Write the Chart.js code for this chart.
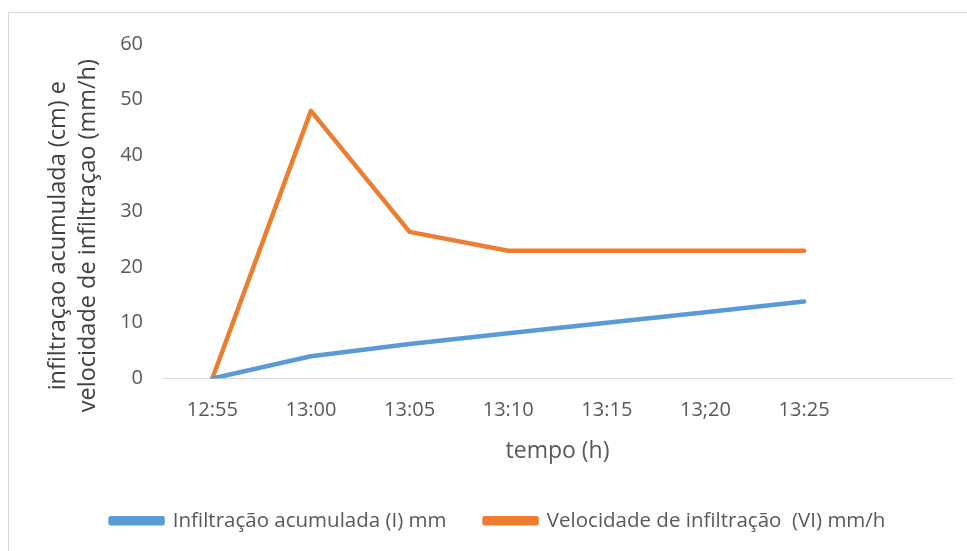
<!DOCTYPE html>
<html>
<head>
<meta charset="utf-8">
<style>
  html, body { margin: 0; padding: 0; background: #fff; overflow: hidden; }
  #wrap { position: relative; width: 967px; height: 551px; }
  #frame { position: absolute; left: 8px; top: 12px; width: 1000px; height: 600px; border: 1px solid #d9d9d9; box-sizing: border-box; }
  canvas { position: absolute; left: 0; top: 0; }
</style>
<script src="https://cdn.jsdelivr.net/npm/chart.js"></script>
</head>
<body>
<div id="wrap">
  <div id="frame"></div>
  <canvas id="grafico" width="967" height="551"></canvas>
</div>
<script>
// horários (a última categoria fica vazia, como no original)
const tempos = ['12:55', '13:00', '13:05', '13:10', '13:15', '13;20', '13:25', ''];
const infiltracaoAcumulada = [0, 4.0, 6.2, 8.1, 10.0, 11.9, 13.8, null];
const velocidadeInfiltracao = [0, 48.0, 26.3, 22.9, 22.9, 22.9, 22.9, null];
const yTicks = [0, 10, 20, 30, 40, 50, 60];

const cinza = '#595959';
const fonte = 'Open Sans';

const ctx = document.getElementById('grafico').getContext('2d');
const chart = new Chart(ctx, {
    type: 'line',
    data: {
        labels: tempos,
        datasets: [
            {
                label: 'Infiltração acumulada (I) mm',
                data: infiltracaoAcumulada,
                borderColor: '#5B9BD5',
                backgroundColor: '#5B9BD5',
                borderWidth: 4.5,
                borderCapStyle: 'round',
                borderJoinStyle: 'round',
                pointRadius: 0,
                tension: 0
            },
            {
                label: 'Velocidade de infiltração  (VI) mm/h',
                data: velocidadeInfiltracao,
                borderColor: '#ED7D31',
                backgroundColor: '#ED7D31',
                borderWidth: 4.5,
                borderCapStyle: 'round',
                borderJoinStyle: 'round',
                pointRadius: 0,
                tension: 0
            }
        ]
    },
    options: {
        responsive: false,
        animation: false,
        layout: { padding: { left: 44, right: 15, top: 44, bottom: 10 } },
        plugins: {
            tooltip: { enabled: false },
            legend: {
                position: 'bottom',
                labels: {
                    color: cinza,
                    font: { family: fonte, size: 20.5 },
                    boxWidth: 52,
                    boxHeight: 5,
                    padding: 38
                }
            }
        },
        scales: {
            x: {
                offset: true,
                afterFit: s => { s.height = 94; },
                grid: { display: false, drawTicks: false },
                border: { color: '#d9d9d9', width: 1 },
                ticks: { color: cinza, font: { family: fonte, size: 20 }, padding: 20, maxRotation: 0 },
                title: {
                    display: true,
                    text: 'tempo (h)',
                    color: cinza,
                    font: { family: fonte, size: 23 },
                    padding: { top: 15, bottom: 7.5 }
                }
            },
            y: {
                min: 0,
                max: 60,
                afterBuildTicks: s => { s.ticks = yTicks.map(v => ({ value: v })); },
                afterFit: s => { s.width = 163 - 44; },
                grid: { display: false, drawTicks: false },
                border: { display: false },
                ticks: { color: cinza, font: { family: fonte, size: 20 }, padding: 20 },
                title: {
                    display: true,
                    // espaços no fim deslocam o título para baixo, como no original
                    text: ['infiltraçao acumulada (cm) e        ', 'velocidade de infiltraçao (mm/h)        '],
                    color: '#404040',
                    font: { family: fonte, size: 23.5, lineHeight: 1.25 },
                    padding: 0
                }
            }
        }
    }
});
</script>
</body>
</html>
